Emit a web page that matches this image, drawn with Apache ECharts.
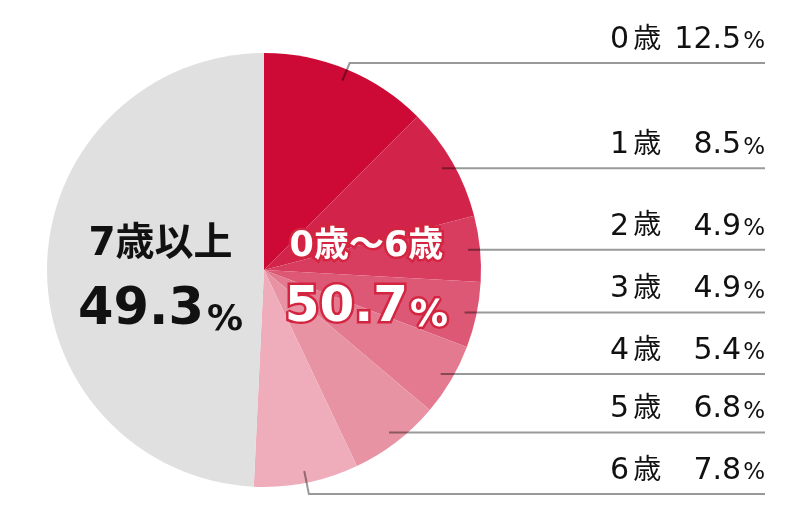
<!DOCTYPE html>
<html>
<head>
<meta charset="utf-8">
<style>
  html, body { margin: 0; padding: 0; background: #fff; }
  #chart { width: 808px; height: 528px; }
</style>
<script src="https://cdn.jsdelivr.net/npm/echarts@6/dist/echarts.min.js"></script>
</head>
<body>
<div id="chart"></div>
<script>
// ---- data ----
const ageNames = ['0', '1', '2', '3', '4', '5', '6', '7歳以上'];
const ageValues = [12.5, 8.5, 4.9, 4.9, 5.4, 6.8, 7.8, 49.3];
const ageValueLabels = ['12.5', '8.5', '4.9', '4.9', '5.4', '6.8', '7.8', '49.3'];
const groupNames = ['0歳～6歳', '7歳以上'];
const groupValues = [50.7, 49.3];
const groupValueLabels = ['50.7', '49.3'];

// ---- style / layout ----
const sliceColors = ['#cc0a35', '#d2244a', '#d83d60', '#dd5875', '#e37a8f', '#e893a4', '#efadbb', '#e0e0e0'];
const CENTER = [264, 270];
const RADIUS = 217;
const LABEL_RIGHT = 765;
const LINE_START_R = 205;            // leader lines start at this radius inside the pie
const BENT_LINE_Y = {0: 63, 6: 494}; // rows whose leader line bends to a fixed height
const GROUP_OFFSETS = [[-9, 7], [8, 15]];
const NUM_FONT = '"DejaVu Sans", "Noto Sans CJK JP", sans-serif';
const JP_FONT = '"Noto Sans CJK JP", "DejaVu Sans", sans-serif';
const TRANSPARENT = 'rgba(0,0,0,0)';

const chart = echarts.init(document.getElementById('chart'), null, { renderer: 'canvas' });

const sliceData = ageNames.map((n, i) => ({ name: n, value: ageValues[i], itemStyle: { color: sliceColors[i] } }));

const labelData = ageNames.map((n, i) => {
  const item = { name: n, value: ageValues[i] };
  if (i === ageNames.length - 1) { item.label = { show: false }; item.labelLine = { show: false }; }
  return item;
});

const redStroke = { textBorderColor: '#d32440', textBorderWidth: 5 };
const groupData = groupNames.map((n, i) => ({
  name: n, value: groupValues[i],
  label: {
    offset: GROUP_OFFSETS[i],
    rich: i === 0 ? {
      t: Object.assign({ fontFamily: NUM_FONT, fontSize: 35, fontWeight: 'bold', color: '#fff', lineHeight: 58 }, redStroke),
      v: Object.assign({ fontFamily: NUM_FONT, fontSize: 50, fontWeight: 'bold', color: '#fff', lineHeight: 66 }, redStroke),
      p: Object.assign({ fontFamily: NUM_FONT, fontSize: 38, fontWeight: 'bold', color: '#fff', lineHeight: 66, verticalAlign: 'bottom', padding: [0, 0, 6, 2] }, redStroke)
    } : {
      t: { fontFamily: NUM_FONT, fontSize: 39, fontWeight: 'bold', color: '#111', lineHeight: 56 },
      v: { fontFamily: NUM_FONT, fontSize: 51, fontWeight: 'bold', color: '#111', lineHeight: 76 },
      p: { fontFamily: NUM_FONT, fontSize: 36, fontWeight: 'bold', color: '#111', lineHeight: 76, verticalAlign: 'bottom', padding: [0, 0, 10, 3] }
    }
  }
}));

const basePie = {
  type: 'pie',
  center: CENTER,
  radius: RADIUS,
  startAngle: 90,
  clockwise: true,
  silent: true
};

const option = {
  animation: false,
  series: [
    Object.assign({}, basePie, {
      z: 2,
      data: sliceData,
      label: { show: false },
      labelLine: { show: false }
    }),
    Object.assign({}, basePie, {
      z: 4,
      itemStyle: { color: TRANSPARENT },
      data: labelData,
      label: {
        show: true,
        position: 'outside',
        formatter: p => `{n|${p.name}}{k|歳}{v|${ageValueLabels[p.dataIndex]}}{p|%}`,
        rich: {
          n: { fontFamily: NUM_FONT, fontSize: 30, color: '#111', lineHeight: 36 },
          k: { fontFamily: JP_FONT, fontSize: 28, color: '#111', padding: [0, 0, 6, 4], lineHeight: 36 },
          v: { fontFamily: NUM_FONT, fontSize: 30, color: '#111', width: 80, align: 'right', lineHeight: 36 },
          p: { fontFamily: NUM_FONT, fontSize: 23, color: '#111', padding: [0, 0, 4, 2], lineHeight: 36, verticalAlign: 'bottom' }
        }
      },
      labelLine: {
        show: true, showAbove: true, length: 10, length2: 10, smooth: false,
        lineStyle: { color: 'rgba(0,0,0,0.4)', width: 2 }
      },
      labelLayout: function (params) {
        const pts = params.labelLinePoints;
        if (!pts) return {};
        const p0 = pts[0];
        let dx = p0[0] - CENTER[0], dy = p0[1] - CENTER[1];
        const len = Math.sqrt(dx * dx + dy * dy) || 1;
        dx /= len; dy /= len;
        const inner = [CENTER[0] + dx * LINE_START_R, CENTER[1] + dy * LINE_START_R];
        const i = params.dataIndex;
        let lineY, bend;
        if (BENT_LINE_Y[i] !== undefined) {
          lineY = BENT_LINE_Y[i];
          const t = (lineY - inner[1]) / dy;
          bend = [inner[0] + dx * t, lineY];
        } else {
          lineY = inner[1];
          bend = [inner[0] + 1, lineY];
        }
        return {
          x: LABEL_RIGHT,
          y: lineY - 23,
          align: 'right',
          verticalAlign: 'middle',
          labelLinePoints: [inner, bend, [LABEL_RIGHT, lineY]]
        };
      }
    }),
    Object.assign({}, basePie, {
      z: 5,
      itemStyle: { color: TRANSPARENT },
      data: groupData,
      label: {
        show: true,
        position: 'inside',
        formatter: p => `{t|${p.name}}\n{v|${groupValueLabels[p.dataIndex]}}{p|%}`
      },
      labelLine: { show: false }
    })
  ]
};
chart.setOption(option);
</script>
</body>
</html>
